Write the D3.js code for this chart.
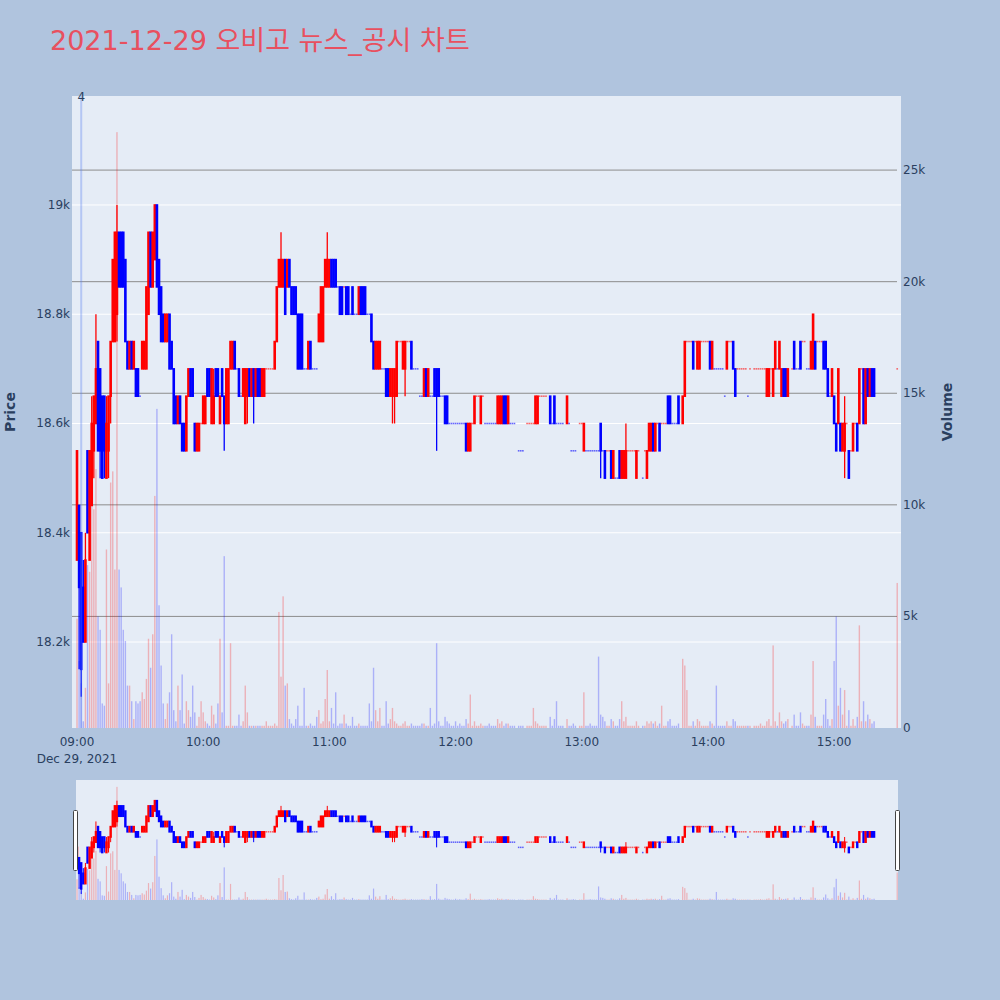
<!DOCTYPE html>
<html><head><meta charset="utf-8">
<script src="https://cdn.jsdelivr.net/npm/d3@7"></script>
<style>body{margin:0;background:#b0c4de;}svg{display:block}</style>
</head><body>
<svg id="c" width="1000" height="1000"></svg>
<script>
// ---------- DATA (1-minute bars, 09:00 .. 15:30) ----------
const chartTitle = "2021-12-29 오비고 뉴스_공시 차트";
const startTime = "2021-12-29T09:00:00";
const openP = [
18350,18450,18400,18300,18200,18550,18350,18450,18550,18600,
18750,18700,18650,18650,18500,18550,18650,18750,18750,18800,
18950,18950,18950,18900,18750,18700,18750,18700,18700,18700,
18650,18700,18700,18700,18800,18950,18850,18900,19000,18900,
18850,18800,18750,18750,18800,18750,18700,18650,18600,18650,
18600,18600,18550,18650,18700,18700,18600,18550,18550,18600,
18600,18600,18700,18700,18600,18600,18700,18700,18600,18700,
18650,18600,18600,18700,18700,18750,18700,18700,18650,18650,
18600,18650,18700,18650,18700,18650,18700,18700,18650,18650,
18700,18700,18700,18700,18700,18750,18850,18850,18850,18900,
18850,18900,18850,18850,18850,18800,18800,18800,18700,18700,
18700,18750,18700,18700,18700,18750,18750,18750,18850,18850,
18850,18900,18900,18900,18850,18850,18850,18850,18850,18850,
18800,18850,18800,18800,18800,18850,18850,18850,18800,18800,
18800,18750,18700,18700,18700,18700,18700,18700,18700,18650,
18650,18650,18650,18750,18750,18700,18700,18750,18750,18750,
18700,18700,18700,18650,18650,18650,18700,18650,18650,18650,
18700,18700,18700,18650,18650,18650,18650,18600,18600,18600,
18600,18600,18600,18600,18600,18600,18550,18550,18600,18600,
18650,18650,18600,18650,18600,18600,18600,18600,18600,18600,
18600,18600,18600,18650,18650,18600,18600,18600,18600,null,
18550,18550,18550,null,18600,18600,18600,18600,18600,18600,
18650,18650,18650,18650,null,18650,18600,18650,18600,18600,
18600,18600,null,18600,18600,18550,18550,18550,null,18600,
18600,18550,18550,18550,18550,18550,18550,18550,18550,18600,
18550,18550,18550,18550,18550,18500,18500,18500,18550,18500,
18500,18500,18550,18550,18550,18550,18500,18550,null,18500,
18550,18500,18550,18550,18600,18550,18600,18600,18600,18600,
18600,18650,18650,18600,18600,18600,18650,null,18600,18650,
18750,18750,18750,18750,18750,18700,18700,18750,18750,18750,
18750,18750,18700,18700,18700,18700,18700,18700,18650,18700,
18750,18750,18750,18700,18700,18700,18700,18700,18700,18650,
18700,null,18700,18700,18700,18700,18700,18700,18650,18650,
18700,18650,18700,18700,18700,18650,18700,18700,18650,null,
18700,18750,18700,18700,18750,18750,18750,18700,18700,18700,
18700,18750,18750,18750,18750,18750,18750,18700,18650,18650,
18650,18600,18600,18600,18550,18550,18600,18550,18550,18550,
18600,18600,18600,18700,18700,18600,18700,18650,18700,18700,
null,null,null,null,null,null,null,null,null,null,
18700];
const highP = [
18550,18450,18400,18350,18400,18550,18550,18650,18650,18800,
18750,18700,18650,18650,18650,18650,18750,18900,18950,19000,
18950,18950,18950,18900,18750,18750,18750,18750,18700,18700,
18650,18750,18750,18850,18950,18950,18950,19000,19000,18900,
18850,18800,18800,18800,18800,18750,18700,18650,18650,18650,
18600,18600,18650,18700,18700,18700,18600,18600,18600,18600,
18650,18650,18700,18700,18700,18700,18700,18700,18650,18700,
18650,18700,18700,18750,18750,18750,18700,18700,18650,18700,
18700,18700,18700,18700,18700,18700,18700,18700,18700,18700,
18700,18700,18700,18700,18750,18850,18900,18950,18900,18900,
18900,18900,18850,18850,18850,18800,18800,18800,18700,18700,
18750,18750,18700,18700,18700,18800,18850,18850,18900,18950,
18900,18900,18900,18900,18850,18850,18850,18850,18850,18850,
18800,18850,18800,18800,18850,18850,18850,18850,18800,18800,
18800,18750,18750,18750,18750,18700,18700,18700,18700,18700,
18700,18700,18750,18750,18750,18750,18750,18750,18750,18750,
18700,18700,18700,18650,18650,18700,18700,18700,18650,18650,
18700,18700,18700,18650,18650,18650,18650,18600,18600,18600,
18600,18600,18600,18600,18600,18600,18600,18600,18600,18650,
18650,18650,18650,18650,18600,18600,18600,18600,18600,18600,
18650,18650,18650,18650,18650,18650,18600,18600,18600,null,
18550,18550,18550,null,18600,18600,18600,18600,18650,18650,
18650,18650,18650,18650,null,18650,18600,18650,18600,18600,
18600,18600,null,18650,18600,18550,18550,18550,null,18600,
18600,18600,18550,18550,18550,18550,18550,18550,18550,18600,
18550,18550,18550,18550,18550,18550,18500,18500,18550,18550,
18550,18600,18550,18550,18550,18550,18550,18550,null,18500,
18550,18550,18600,18600,18600,18600,18600,18600,18600,18600,
18600,18650,18650,18600,18600,18600,18650,null,18650,18750,
18750,18750,18750,18750,18750,18750,18750,18750,18750,18750,
18750,18750,18750,18700,18700,18700,18700,18700,18650,18750,
18750,18750,18750,18700,18700,18700,18700,18700,18700,18650,
18700,null,18700,18700,18700,18700,18700,18700,18700,18700,
18700,18700,18750,18700,18750,18700,18700,18700,18700,null,
18700,18750,18700,18700,18750,18750,18750,18700,18700,18750,
18800,18750,18750,18750,18750,18750,18750,18700,18650,18700,
18650,18600,18700,18600,18600,18650,18600,18550,18550,18600,
18600,18600,18700,18700,18700,18700,18700,18700,18700,18700,
null,null,null,null,null,null,null,null,null,null,
18700];
const lowP = [
18350,18150,18100,18200,18200,18400,18350,18450,18500,18600,
18550,18500,18500,18500,18500,18500,18600,18750,18750,18750,
18850,18850,18850,18750,18700,18700,18700,18700,18650,18650,
18650,18700,18700,18700,18800,18850,18850,18900,18850,18800,
18750,18750,18750,18750,18700,18700,18600,18600,18600,18600,
18550,18550,18550,18650,18650,18650,18550,18550,18550,18600,
18600,18600,18650,18650,18600,18600,18650,18650,18600,18650,
18550,18600,18600,18700,18700,18700,18700,18650,18650,18650,
18600,18600,18650,18650,18600,18650,18650,18650,18650,18650,
18700,18700,18700,18700,18700,18750,18850,18850,18850,18800,
18850,18850,18800,18800,18800,18700,18700,18700,18700,18700,
18700,18700,18700,18700,18700,18750,18750,18750,18850,18850,
18850,18850,18850,18850,18850,18800,18800,18850,18800,18800,
18800,18800,18800,18800,18800,18800,18800,18800,18800,18800,
18750,18700,18700,18700,18700,18700,18700,18650,18650,18650,
18600,18600,18650,18750,18750,18700,18650,18750,18750,18700,
18700,18700,18700,18650,18650,18650,18650,18650,18650,18650,
18650,18550,18650,18650,18650,18600,18600,18600,18600,18600,
18600,18600,18600,18600,18600,18550,18550,18550,18600,18600,
18650,18650,18600,18650,18600,18600,18600,18600,18600,18600,
18600,18600,18600,18600,18600,18600,18600,18600,18600,null,
18550,18550,18550,null,18600,18600,18600,18600,18600,18600,
18650,18650,18650,18650,null,18600,18600,18600,18600,18600,
18600,18600,null,18600,18600,18550,18550,18550,null,18600,
18600,18550,18550,18550,18550,18550,18550,18550,18550,18500,
18550,18500,18550,18550,18500,18500,18500,18500,18500,18500,
18500,18500,18550,18550,18550,18550,18500,18550,null,18500,
18550,18500,18550,18550,18550,18550,18600,18550,18600,18600,
18600,18600,18600,18600,18600,18600,18600,null,18600,18650,
18750,18750,18750,18700,18750,18700,18700,18750,18750,18750,
18750,18700,18700,18700,18700,18700,18700,18700,18650,18700,
18750,18750,18700,18650,18700,18700,18700,18700,18700,18650,
18700,null,18700,18700,18700,18700,18700,18700,18650,18650,
18700,18650,18700,18700,18700,18650,18650,18650,18650,null,
18700,18700,18700,18700,18700,18750,18750,18700,18700,18700,
18700,18700,18750,18750,18750,18700,18700,18650,18650,18650,
18600,18550,18600,18550,18550,18500,18600,18500,18550,18550,
18600,18550,18600,18700,18600,18600,18650,18650,18650,18650,
null,null,null,null,null,null,null,null,null,null,
18700];
const closeP = [
18550,18300,18150,18200,18350,18400,18550,18600,18650,18700,
18550,18550,18500,18550,18600,18650,18750,18900,18950,18950,
18850,18850,18850,18750,18700,18750,18700,18750,18650,18650,
18650,18750,18750,18850,18950,18850,18950,19000,18850,18800,
18750,18750,18800,18800,18700,18700,18600,18600,18650,18600,
18550,18550,18650,18700,18650,18650,18550,18600,18600,18600,
18650,18650,18650,18650,18700,18650,18650,18650,18650,18650,
18600,18700,18700,18750,18750,18700,18700,18650,18650,18700,
18700,18700,18650,18700,18650,18700,18650,18650,18700,18700,
18700,18700,18700,18700,18750,18850,18900,18900,18900,18800,
18900,18850,18800,18800,18800,18700,18700,18700,18700,18700,
18750,18700,18700,18700,18700,18800,18850,18850,18900,18900,
18900,18850,18850,18850,18850,18800,18800,18850,18800,18800,
18800,18800,18800,18800,18850,18800,18800,18800,18800,18800,
18750,18700,18750,18750,18750,18700,18700,18650,18650,18700,
18700,18700,18750,18750,18750,18750,18750,18750,18750,18700,
18700,18700,18700,18650,18650,18700,18650,18700,18650,18650,
18650,18650,18650,18650,18650,18600,18600,18600,18600,18600,
18600,18600,18600,18600,18600,18550,18600,18600,18600,18650,
18650,18650,18650,18650,18600,18600,18600,18600,18600,18600,
18650,18650,18650,18600,18600,18650,18600,18600,18600,null,
18550,18550,18550,null,18600,18600,18600,18600,18650,18650,
18650,18650,18650,18650,null,18600,18600,18600,18600,18600,
18600,18600,null,18650,18600,18550,18550,18550,null,18600,
18600,18600,18550,18550,18550,18550,18550,18550,18550,18550,
18550,18500,18550,18550,18500,18550,18500,18500,18500,18550,
18550,18550,18550,18550,18550,18550,18550,18550,null,18500,
18550,18550,18600,18600,18550,18600,18600,18550,18600,18600,
18600,18600,18600,18600,18600,18600,18600,null,18650,18750,
18750,18750,18750,18700,18750,18750,18750,18750,18750,18750,
18750,18700,18750,18700,18700,18700,18700,18700,18650,18750,
18750,18750,18700,18650,18700,18700,18700,18700,18700,18650,
18700,null,18700,18700,18700,18700,18700,18700,18700,18700,
18700,18700,18750,18700,18750,18700,18650,18650,18700,null,
18700,18700,18700,18700,18700,18750,18750,18700,18700,18750,
18800,18700,18750,18750,18750,18700,18700,18650,18650,18700,
18600,18550,18700,18550,18600,18600,18600,18500,18550,18600,
18600,18550,18700,18700,18600,18700,18650,18700,18650,18650,
null,null,null,null,null,null,null,null,null,null,
18700];
// volume in thousands of shares
const volumeK = [
4.9,3.0,2.0,0.3,1.8,7.3,7.0,11.5,9.8,11.6,
5.0,4.4,1.1,1.0,8.0,2.0,11.0,11.5,7.1,26.7,
7.1,6.3,4.4,3.9,1.9,1.9,1.2,0.4,1.2,1.1,
1.2,1.6,1.3,2.2,4.0,2.7,4.2,10.4,14.3,5.5,
2.8,1.1,0.4,1.1,1.6,4.2,0.8,0.3,1.9,0.8,
2.4,0.2,1.2,0.8,0.5,1.9,0.7,0.1,0.5,1.2,
0.7,0.3,0.2,0.1,1.0,0.6,0.2,1.1,4.0,0.7,
7.7,0.1,0.1,3.8,0.1,0.1,0.1,0.6,0.1,0.3,
1.9,0.7,0.1,0.1,0.1,0.1,0.1,0.1,0.1,0.1,
0.3,0.1,0.1,0.1,0.2,0.1,5.2,2.3,5.9,1.9,
2.0,0.4,0.2,0.1,0.4,1.0,0.1,0.1,1.8,0.1,
0.1,0.2,0.1,0.1,0.5,0.8,0.2,0.3,1.3,2.6,
0.3,0.9,0.2,1.6,0.1,0.2,0.2,0.6,0.2,0.1,
0.1,0.5,0.1,0.1,0.2,0.1,0.1,0.1,0.1,1.1,
0.3,2.7,0.8,0.3,0.9,0.1,0.1,1.2,0.2,0.4,
0.9,0.3,0.2,0.1,0.1,0.2,0.3,0.1,0.1,0.2,
0.1,0.1,0.1,0.1,0.2,0.2,0.1,0.1,0.9,0.1,
0.2,3.8,0.3,0.1,0.1,0.5,0.3,0.2,0.1,0.1,
0.3,0.1,0.2,0.1,0.1,0.4,0.2,1.5,0.1,0.3,
0.1,0.1,0.2,0.1,0.1,0.1,0.2,0.1,0.1,0.1,
0.4,0.2,0.3,0.1,0.2,0.2,0.1,0.1,0.1,0,
0.1,0.1,0.1,0,0.1,0.1,0.1,0.9,0.3,0.2,
0.1,0.1,0.1,0.1,0,0.5,0.1,0.4,1.2,0.1,
0.1,0.1,0,0.4,0.1,0.1,0.2,0.1,0,0.1,
0.1,1.6,0.1,0.1,0.2,0.1,0.1,0.1,3.2,0.6,
0.5,0.3,0.1,0.1,0.4,0.3,0.1,0.1,0.4,1.2,
0.3,0.5,0.1,0.1,0.1,0.1,0.3,0.1,0,0.1,
0.1,0.3,0.2,0.3,0.2,0.3,0.1,0.2,1.0,0.1,
0.1,0.3,0.4,0.1,0.1,0.1,0.2,0,3.1,2.8,
1.7,0.1,0.1,0.3,0.1,0.4,0.3,0.1,0.1,0.1,
0.1,0.3,0.2,0.1,1.9,0.1,0.1,0.1,0.1,0.3,
0.1,0.1,0.4,0.3,0.1,0.1,0.1,0.1,0.1,0.1,
0.1,0,0.1,0.1,0.1,0.2,0.1,0.1,0.3,0.4,
0.1,3.7,0.3,0.1,0.7,0.3,0.2,0.3,0.4,0,
0.1,0.6,0.1,0.1,0.7,0.2,0.1,0.1,0.1,0.6,
3.0,0.5,0.1,0.1,0.1,0.6,1.3,0.4,0.1,0.4,
3.0,5.0,1.0,1.8,0.6,1.7,0.1,0.8,0.1,0.4,
0.1,0.5,4.6,0.3,1.2,0.3,0.6,0.4,0.2,0.3,
0,0,0,0,0,0,0,0,0,0,
6.5];
const priceTicks = [18200, 18400, 18600, 18800, 19000];
const priceTickLabels = ["18.2k", "18.4k", "18.6k", "18.8k", "19k"];
const volTicks = [0, 5, 10, 15, 20, 25];
const volTickLabels = ["0", "5k", "10k", "15k", "20k", "25k"];
const timeTickLabels = ["09:00", "10:00", "11:00", "12:00", "13:00", "14:00", "15:00"];
const newsTimes = ["2021-12-29T09:02:00"];
const newsLabels = ["4"];

// ---------- CHART ----------
const FONT = "'DejaVu Sans', Verdana, 'Noto Sans CJK KR', sans-serif";
const INK = "#2a3f5f";
const UP = "#ff0000", DOWN = "#0000ff";
const svg = d3.select("#c");
svg.append("rect").attr("width", 1000).attr("height", 1000).attr("fill", "#b0c4de");

const P = {l: 72, r: 901, t: 96, b: 728};
const t0 = new Date(startTime);
const times = openP.map((d, i) => d3.timeMinute.offset(t0, i));
const xDomain = [new Date(+t0 - 2.38 * 60000), new Date(+t0 + 391.8 * 60000)];
const x = d3.scaleTime().domain(xDomain).range([P.l, P.r]);
const priceDomain = [18042.6, 19199.5];
const volDomain = [0, 28.32];
const y = d3.scaleLinear().domain(priceDomain).range([P.b, P.t]);
const yv = d3.scaleLinear().domain(volDomain).range([P.b, P.t]);

// direction like plotly (doji compares with previous close)
const dir = [];
{
  let inc = true, cPrev = null;
  for (let i = 0; i < openP.length; i++) {
    const o = openP[i], c = closeP[i];
    if (o == null) { dir.push(null); continue; }
    if (c !== o) inc = c > o;
    else if (cPrev !== null && c !== cPrev) inc = c > cPrev;
    dir.push(inc);
    cPrev = c;
  }
}

// title
svg.append("text").attr("x", 50).attr("y", 50).attr("font-family", FONT)
  .attr("font-size", 27).attr("fill", "#e8505f").text(chartTitle);

// plot background
svg.append("rect").attr("x", P.l).attr("y", P.t).attr("width", P.r - P.l)
  .attr("height", P.b - P.t).attr("fill", "#e5ecf6");

// grids
const g = svg.append("g");
g.selectAll("line.pg").data(priceTicks).join("line")
  .attr("x1", P.l).attr("x2", P.r).attr("y1", d => y(d)).attr("y2", d => y(d))
  .attr("stroke", "#ffffff").attr("stroke-width", 1);
g.selectAll("line.vg").data(volTicks.slice(1)).join("line")
  .attr("x1", P.l).attr("x2", P.r - 4).attr("y1", d => yv(d)).attr("y2", d => yv(d))
  .attr("stroke", "#8c8c8c").attr("stroke-width", 1);

function drawSeries(layer, xs, ys, yvs, bodyW, wickW, barW) {
  const idx = d3.range(openP.length);
  layer.selectAll("rect.vol").data(idx.filter(i => volumeK[i] > 0)).join("rect")
    .attr("x", i => xs(times[i]) - barW / 2).attr("width", barW)
    .attr("y", i => yvs(volumeK[i])).attr("height", i => yvs(0) - yvs(volumeK[i]))
    .attr("fill", i => (dir[i] === false ? "rgba(0,0,255,0.25)" : "rgba(255,0,0,0.25)"));
  const cs = idx.filter(i => openP[i] != null);
  const bars = cs.filter(i => openP[i] !== closeP[i] || highP[i] !== lowP[i]);
  const dojis = cs.filter(i => openP[i] === closeP[i] && highP[i] === lowP[i]);
  layer.selectAll("line.wick").data(bars).join("line")
    .attr("x1", i => xs(times[i])).attr("x2", i => xs(times[i]))
    .attr("y1", i => ys(highP[i])).attr("y2", i => ys(lowP[i]))
    .attr("stroke", i => dir[i] ? UP : DOWN).attr("stroke-width", wickW);
  layer.selectAll("rect.body").data(bars).join("rect")
    .attr("x", i => xs(times[i]) - bodyW / 2).attr("width", bodyW)
    .attr("y", i => ys(Math.max(openP[i], closeP[i])) - 0.8)
    .attr("height", i => Math.abs(ys(openP[i]) - ys(closeP[i])) + 1.6)
    .attr("fill", i => dir[i] ? UP : DOWN);
  layer.selectAll("rect.doji").data(dojis).join("rect")
    .attr("x", i => xs(times[i]) - bodyW * 0.32).attr("width", bodyW * 0.64)
    .attr("y", i => ys(openP[i]) - 0.75).attr("height", 1.5)
    .attr("fill", i => dir[i] ? UP : DOWN).attr("opacity", 0.6);
}

svg.append("clipPath").attr("id", "cm").append("rect")
  .attr("x", P.l).attr("y", P.t).attr("width", P.r - P.l).attr("height", P.b - P.t);
const main = svg.append("g").attr("clip-path", "url(#cm)");
drawSeries(main, x, y, yv, 2.6, 1.3, 1.4);

// news marker
newsTimes.forEach((t, k) => {
  const nx = x(new Date(t));
  svg.append("line").attr("x1", nx).attr("x2", nx).attr("y1", P.t).attr("y2", P.b)
    .attr("stroke", "rgba(90,130,240,0.35)").attr("stroke-width", 2);
  svg.append("text").attr("x", nx).attr("y", P.t + 5).attr("text-anchor", "middle")
    .attr("font-family", FONT).attr("font-size", 12).attr("fill", INK).text(newsLabels[k]);
});

// axes text
const ax = svg.append("g").attr("font-family", FONT).attr("font-size", 12).attr("fill", INK);
ax.selectAll("text.pl").data(priceTicks).join("text")
  .attr("x", P.l - 2).attr("y", d => y(d) + 4).attr("text-anchor", "end")
  .text((d, i) => priceTickLabels[i]);
ax.selectAll("text.vl").data(volTicks).join("text")
  .attr("x", P.r + 2).attr("y", d => yv(d) + 4).attr("text-anchor", "start")
  .text((d, i) => volTickLabels[i]);
ax.selectAll("text.tl").data(timeTickLabels).join("text")
  .attr("x", d => x(new Date("2021-12-29T" + d + ":00"))).attr("y", P.b + 18)
  .attr("text-anchor", "middle").text(d => d);
ax.append("text").attr("x", x(t0)).attr("y", P.b + 35).attr("text-anchor", "middle")
  .text("Dec 29, 2021");
svg.append("text").attr("transform", `translate(15,${(P.t + P.b) / 2}) rotate(-90)`)
  .attr("text-anchor", "middle").attr("font-family", FONT).attr("font-size", 14)
  .attr("font-weight", "bold").attr("fill", INK).text("Price");
svg.append("text").attr("transform", `translate(952,${(P.t + P.b) / 2}) rotate(-90)`)
  .attr("text-anchor", "middle").attr("font-family", FONT).attr("font-size", 14)
  .attr("font-weight", "bold").attr("fill", INK).text("Volume");

// range slider
const S = {l: 76, r: 898, t: 780, b: 900};
svg.append("rect").attr("x", S.l).attr("y", S.t).attr("width", S.r - S.l)
  .attr("height", S.b - S.t).attr("fill", "#e5ecf6");
const xs = d3.scaleTime().domain(xDomain).range([P.l, P.r]);
const ys = d3.scaleLinear().domain(priceDomain).range([S.b, S.t]);
const yvs = d3.scaleLinear().domain(volDomain).range([S.b, S.t]);
svg.append("clipPath").attr("id", "cs").append("rect")
  .attr("x", S.l).attr("y", S.t).attr("width", S.r - S.l).attr("height", S.b - S.t);
const slider = svg.append("g").attr("clip-path", "url(#cs)");
drawSeries(slider, xs, ys, yvs, 2.4, 1, 1.2);
[S.l - 2, S.r - 2].forEach(hx => {
  svg.append("rect").attr("x", hx - 0.5).attr("y", 810.5).attr("width", 4).attr("height", 60)
    .attr("fill", "#ffffff").attr("stroke", "#444").attr("stroke-width", 1).attr("rx", 1);
});
</script>
</body></html>
